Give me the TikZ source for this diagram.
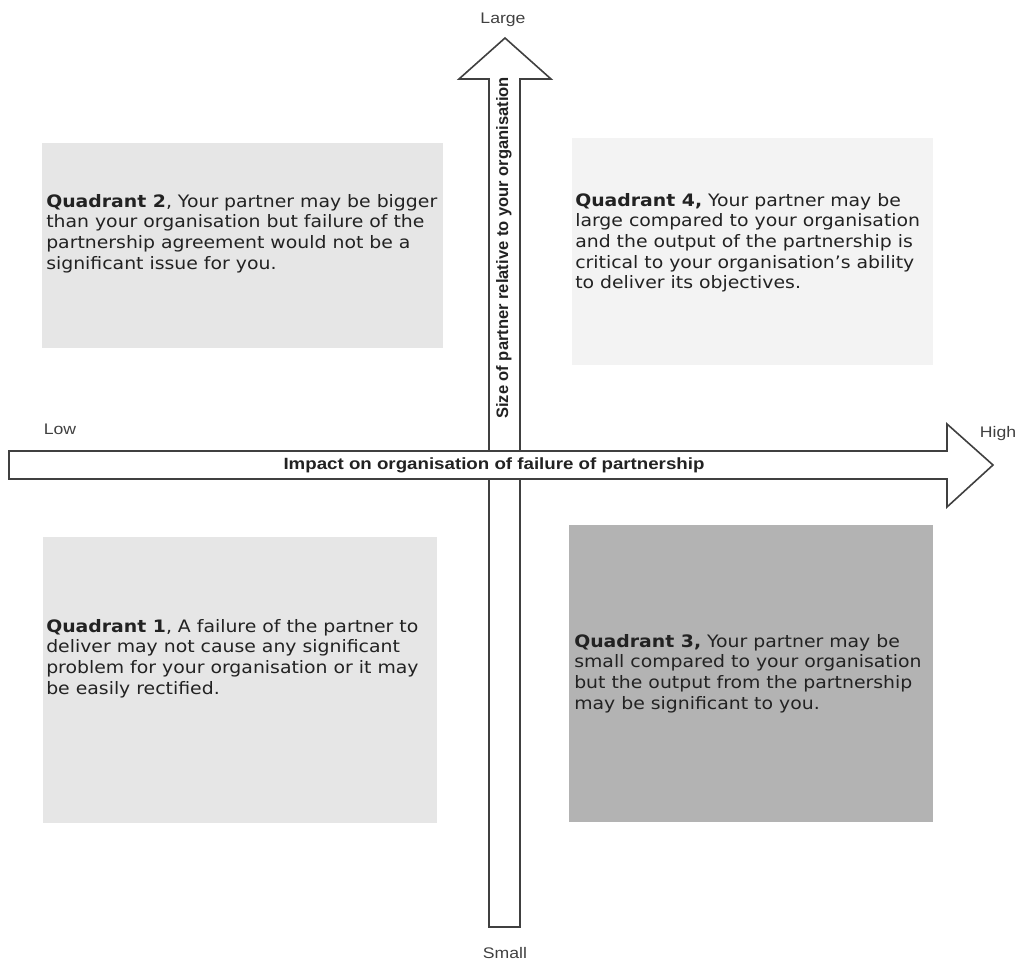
\documentclass[tikz,border=0pt]{standalone}
\usepackage{fontspec}
\setmainfont{DejaVu Sans}
\newfontfamily\quadfont[FakeStretch=1.1]{DejaVu Sans}
\newfontfamily\axisfont[FakeStretch=1.15]{Liberation Sans}
\newfontfamily\sidefont{Liberation Sans}

\definecolor{edgegrey}{HTML}{404040}
\definecolor{quadlight}{HTML}{E6E6E6}
\definecolor{quadpale}{HTML}{F3F3F3}
\definecolor{quaddark}{HTML}{B3B3B3}
\definecolor{inkgrey}{HTML}{222222}

\tikzset{
  blockarrow/.style={draw=edgegrey, line width=1.2pt, fill=white, line join=miter},
  quadtext/.style={anchor=north west, inner sep=0pt, align=left, text=inkgrey,
    font=\quadfont\fontsize{12.85}{15.5}\selectfont},
  endlabel/.style={inner sep=0pt, text=edgegrey, font=\axisfont\fontsize{11.5}{13}\selectfont},
  axistitle/.style={inner sep=0pt, text=inkgrey, font=\axisfont\bfseries\fontsize{12.2}{14}\selectfont},
  sidetitle/.style={inner sep=0pt, text=inkgrey, rotate=90, font=\sidefont\bfseries\fontsize{12.4}{14}\selectfont},
}

\begin{document}
\begin{tikzpicture}[x=0.75pt, y=-0.75pt]
  \useasboundingbox (0,0) rectangle (1018,960);

  % Quadrant panels
  \fill[quadlight] (42,143) rectangle (443,348);
  \fill[quadpale]  (572,138) rectangle (933,365);
  \fill[quadlight] (43,537) rectangle (437,823);
  \fill[quaddark]  (569,525) rectangle (933,822);

  % Quadrant texts
  \node (q2) at (46,194) [quadtext] {\textbf{Quadrant 2}, Your partner may be bigger\\than your organisation but failure of the\\partnership agreement would not be a\\significant issue for you.};
  \node (q4) at (575,193) [quadtext] {\textbf{Quadrant 4,} Your partner may be\\large compared to your organisation\\and the output of the partnership is\\critical to your organisation’s ability\\to deliver its objectives.};
  \node (q1) at (46,619) [quadtext] {\textbf{Quadrant 1}, A failure of the partner to\\deliver may not cause any significant\\problem for your organisation or it may\\be easily rectified.};
  \node (q3) at (574,634) [quadtext] {\textbf{Quadrant 3,} Your partner may be\\small compared to your organisation\\but the output from the partnership\\may be significant to you.};

  % Size axis (vertical)
  \draw[blockarrow] (489,927) -- (489,79) -- (459,79) -- (505,38) -- (551,79)
    -- (520,79) -- (520,927) -- cycle;
  \node (size) at (504,248) [sidetitle] {Size of partner relative to your organisation};

  % Impact axis (horizontal), drawn over the vertical one
  \draw[blockarrow] (9,451) -- (947,451) -- (947,424) -- (993,465) -- (947,507)
    -- (947,479) -- (9,479) -- cycle;
  \node (impact) at (494,465) [axistitle] {Impact on organisation of failure of partnership};

  % Axis ends
  \node (large) at (503,20) [endlabel] {Large};
  \node (small) at (505,953) [endlabel] {Small};
  \node (low) at (60,429) [endlabel] {Low};
  \node (high) at (998,434) [endlabel] {High};

\end{tikzpicture}
\end{document}
